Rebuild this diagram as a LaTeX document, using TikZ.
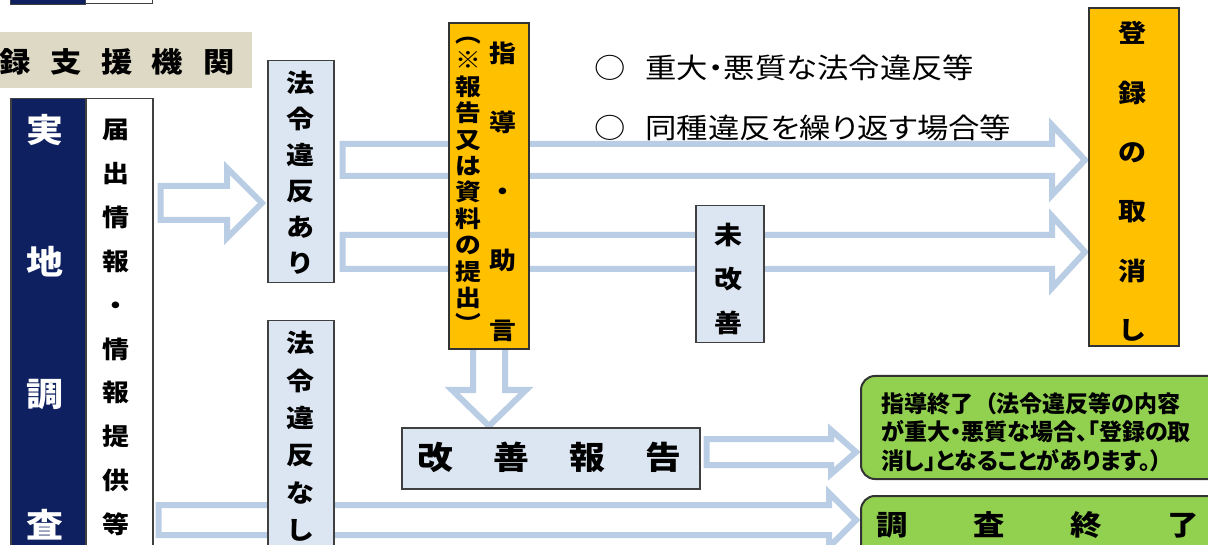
\documentclass[tikz,border=0pt]{standalone}
\usepackage{fontspec}
\setmainfont{Noto Sans CJK JP}[RawFeature=+palt, FakeStretch=1.12]
\newfontfamily\plainjp{Noto Sans CJK JP}[RawFeature=+palt]
\usetikzlibrary{calc}
\pgfdeclarelayer{background}
\pgfsetlayers{background,main}
\definecolor{arrowblue}{RGB}{185,205,229}
\definecolor{lightbox}{RGB}{220,230,242}
\definecolor{navy}{RGB}{14,32,96}
\definecolor{gold}{RGB}{255,192,0}
\definecolor{leaf}{RGB}{146,208,80}
\definecolor{beige}{RGB}{221,217,196}
\definecolor{edge}{RGB}{64,64,64}
\newcommand{\cb}[2]{\makebox[#1]{#2}}
% horizontal hollow arrow: #1 start node anchor, #2 end node anchor, #3 y (px), #4 shaft half, #5 head half, #6 head length, #7 start offset, #8 tip offset
\newcommand{\harrow}[8]{\draw[barrow] let \p1=#1, \p2=#2 in
  (\x1+#7pt,-#3pt-#4pt) -- (\x2-#8pt-#6pt,-#3pt-#4pt) -- (\x2-#8pt-#6pt,-#3pt-#5pt) -- (\x2-#8pt,-#3pt)
  -- (\x2-#8pt-#6pt,-#3pt+#5pt) -- (\x2-#8pt-#6pt,-#3pt+#4pt) -- (\x1+#7pt,-#3pt+#4pt) -- cycle;}
% vertical hollow arrow (downwards): #3 x (px)
\newcommand{\varrow}[8]{\draw[barrow] let \p1=#1, \p2=#2 in
  (#3pt-#4pt,\y1+#7pt) -- (#3pt-#4pt,\y2+#8pt+#6pt) -- (#3pt-#5pt,\y2+#8pt+#6pt) -- (#3pt,\y2+#8pt)
  -- (#3pt+#5pt,\y2+#8pt+#6pt) -- (#3pt+#4pt,\y2+#8pt+#6pt) -- (#3pt+#4pt,\y1+#7pt) -- cycle;}
\begin{document}
\begin{tikzpicture}[x=1pt,y=-1pt,
  barrow/.style={draw=arrowblue, line width=6pt, fill=white, line join=miter},
  plainbox/.style={inner sep=0pt, anchor=north west},
  lbox/.style={plainbox, draw=edge, line width=1.5pt, fill=lightbox},
  goldbox/.style={plainbox, draw=black!80, line width=2pt, fill=gold},
  greenbox/.style={plainbox, draw=black!80, line width=2pt, fill=leaf, rounded corners=14pt},
  vtext/.style 2 args={align=center, inner sep=0pt, font=\bfseries\fontsize{#1}{#2}\selectfont},
  htext/.style={inner sep=0pt, font=\bfseries\fontsize{#1}{#1}\selectfont}]
\useasboundingbox (0,0) rectangle (1208,545);

% partial boxes at the top edge
\node[plainbox, fill=navy, draw=edge, line width=1.2pt, minimum width=75pt, minimum height=14pt] (topnavy) at (10,-10) {};
\node[plainbox, fill=white, draw=edge, line width=1.2pt, minimum width=67pt, minimum height=13pt] (topwhite) at (85,-10) {};

% banner
\node[plainbox, fill=beige, minimum width=252pt, minimum height=56pt] (banner) at (0,32) {};
\node[htext=28, anchor=west] (bannertext) at (-11,62) {\cb{51pt}{録}\cb{51pt}{支}\cb{51pt}{援}\cb{51pt}{機}\cb{51pt}{関}};

% left column
\node[plainbox, fill=navy, draw=edge, line width=1.5pt, minimum width=75pt, minimum height=480pt] (jicchi) at (10,98) {};
\node[vtext={33}{131.7}, text=white] (jicchitext) at (45,327.5) {実\\地\\調\\査};
\node[plainbox, fill=white, draw=edge, line width=1.5pt, minimum width=67pt, minimum height=480pt] (todoke) at (85,98) {};
\node[vtext={24}{43.9}] (todoketext) at (116,327.5) {届\\出\\情\\報\\・\\情\\報\\提\\供\\等};

% violation boxes
\node[lbox, minimum width=66pt, minimum height=222pt] (ari) at (267,60) {};
\node[vtext={25}{36}] (aritext) at (300,173) {法\\令\\違\\反\\あ\\り};
\node[lbox, minimum width=66pt, minimum height=250pt] (nashi) at (267,320) {};
\node[vtext={25}{37.4}] (nashitext) at (300,436.5) {法\\令\\違\\反\\な\\し};

% guidance box
\node[goldbox, minimum width=80pt, minimum height=326pt] (shidou) at (448,22) {};
\node[vtext={24}{69.2}] (shidoutext) at (503,191.5) {指\\導\\・\\助\\言};
\node[vtext={23}{26.4}] (shidounote) at (468,185) {︵\\※\\報\\告\\又\\は\\資\\料\\の\\提\\出\\︶};

% not improved
\node[lbox, minimum width=68pt, minimum height=137pt] (mikaizen) at (695,205) {};
\node[vtext={25}{44}] (mikaizentext) at (728,279) {未\\改\\善};

% cancellation
\node[goldbox, minimum width=90pt, minimum height=338pt] (torikeshi) at (1088,7) {};
\node[vtext={25}{59.4}] (torikeshitext) at (1132,181.5) {登\\録\\の\\取\\消\\し};

% conditions
\node[inner sep=0pt, anchor=west, font=\fontsize{28}{28}\selectfont] (cond1) at (594,68) {○\hspace{20pt}重大・悪質な法令違反等};
\node[inner sep=0pt, anchor=west, font=\fontsize{28}{28}\selectfont] (cond2) at (594,128) {○\hspace{20pt}同種違反を繰り返す場合等};

% improvement report
\node[lbox, minimum width=298pt, minimum height=61pt] (kaizen) at (401,427) {};
\node[htext=32, anchor=west] (kaizentext) at (397,457) {\cb{76pt}{改}\cb{76pt}{善}\cb{76pt}{報}\cb{76pt}{告}};

% end boxes
\node[greenbox, minimum width=370pt, minimum height=103pt] (end1) at (860,375) {};
\node[inner sep=0pt, anchor=west, align=left, font=\plainjp\bfseries\fontsize{23}{28.5}\selectfont] (end1text) at (881,432)
  {指導終了\hspace{12pt}（法令違反等の内容\\が重大・悪質な場合、「登録の取\\消し」となることがあります。）};
\node[greenbox, minimum width=370pt, minimum height=80pt] (end2) at (860,495) {};
\node[htext=28, anchor=west] (end2text) at (843.5,525) {\cb{97pt}{調}\cb{97pt}{査}\cb{97pt}{終}\cb{97pt}{了}};

% hollow arrows
\begin{pgfonlayer}{background}
\harrow{(todoke.east)}{(ari.west)}{203}{17}{35}{35}{7}{5}
\harrow{(ari.east)}{(torikeshi.west)}{160}{16}{35}{33}{8}{3}
\harrow{(ari.east)}{(torikeshi.west)}{252}{17}{36}{33}{8}{3}
\varrow{(shidou.south)}{(kaizen.north)}{489}{16}{37}{36}{5}{1}
\harrow{(kaizen.east)}{(end1.west)}{452}{13}{22}{25}{6}{4}
\harrow{(todoke.east)}{(end2.west)}{520}{15}{27}{27}{5}{4}
\end{pgfonlayer}
\end{tikzpicture}
\end{document}
